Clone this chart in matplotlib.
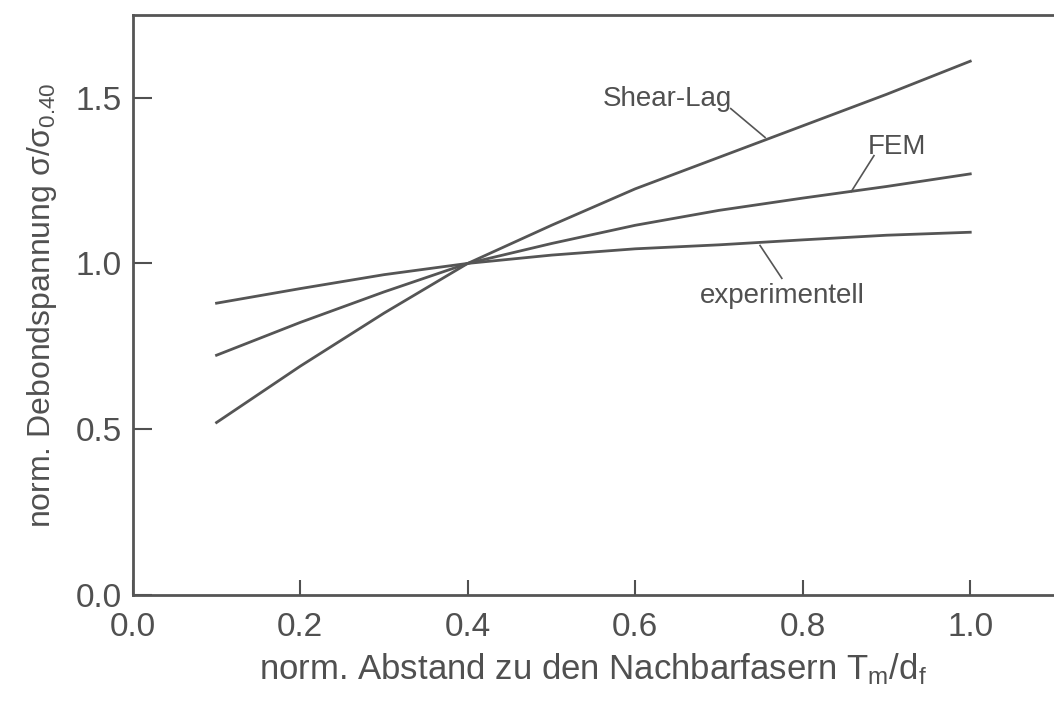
import numpy as np
import matplotlib
matplotlib.use("Agg")
import matplotlib.pyplot as plt

# values
abstand = [0.1, 0.2, 0.3, 0.4, 0.5, 0.6, 0.7, 0.8, 0.9, 1.0]
shear_lag = [0.52, 0.69, 0.85, 1.0, 1.115, 1.225, 1.32, 1.415, 1.51, 1.61]
fem = [0.723, 0.822, 0.914, 1.0, 1.06, 1.115, 1.16, 1.197, 1.232, 1.27]
experimentell = [0.88, 0.924, 0.966, 1.0, 1.025, 1.044, 1.056, 1.071, 1.085, 1.094]

xticks = [0.0, 0.2, 0.4, 0.6, 0.8, 1.0]
yticks = [0.0, 0.5, 1.0, 1.5]

ink = '#505050'
plt.rcParams['font.family'] = ['Liberation Sans', 'DejaVu Sans']
plt.rcParams['mathtext.fontset'] = 'custom'
plt.rcParams['mathtext.rm'] = 'Liberation Sans'
plt.rcParams['mathtext.it'] = 'Liberation Sans'

fig = plt.figure(figsize=(10.54, 7.04), dpi=100)
ax = fig.add_axes([0.126, 0.155, 0.874, 0.824])

for serie in (shear_lag, fem, experimentell):
    ax.plot(abstand, serie, color='#555555', lw=2.0, solid_joinstyle='round')

ax.set_xlim(0, 1.1)
ax.set_ylim(0, 1.75)
ax.set_xticks(xticks)
ax.set_yticks(yticks)
ax.set_xticklabels(['%.1f' % v for v in xticks])
ax.set_yticklabels(['%.1f' % v for v in yticks])
ax.tick_params(axis='x', direction='in', length=11, width=1.5, pad=12,
               labelsize=24, colors=ink)
ax.tick_params(axis='y', direction='in', length=14, width=1.5, pad=8,
               labelsize=24, colors=ink)
for s in ['left', 'bottom', 'top']:
    ax.spines[s].set_linewidth(2.0)
    ax.spines[s].set_color('#555555')
ax.spines['right'].set_visible(False)

ax.set_xlabel(r'norm. Abstand zu den Nachbarfasern $\mathrm{T_m/d_f}$',
              fontsize=25, color=ink, labelpad=6)
ax.set_ylabel(r'norm. Debondspannung $\sigma/\sigma_{0.40}$',
              fontsize=23, color=ink, labelpad=12)

# labels with leader lines
ax.text(0.638, 1.476, 'Shear-Lag', fontsize=20, color=ink, ha='center', va='baseline')
ax.plot([0.714, 0.755], [1.467, 1.380], color='#555555', lw=1.2)
ax.text(0.913, 1.331, 'FEM', fontsize=20, color=ink, ha='center', va='baseline')
ax.plot([0.885, 0.858], [1.325, 1.217], color='#555555', lw=1.2)
ax.text(0.775, 0.880, 'experimentell', fontsize=20, color=ink, ha='center', va='baseline')
ax.plot([0.749, 0.775], [1.054, 0.955], color='#555555', lw=1.2)

fig.savefig('out.png', dpi=100)
